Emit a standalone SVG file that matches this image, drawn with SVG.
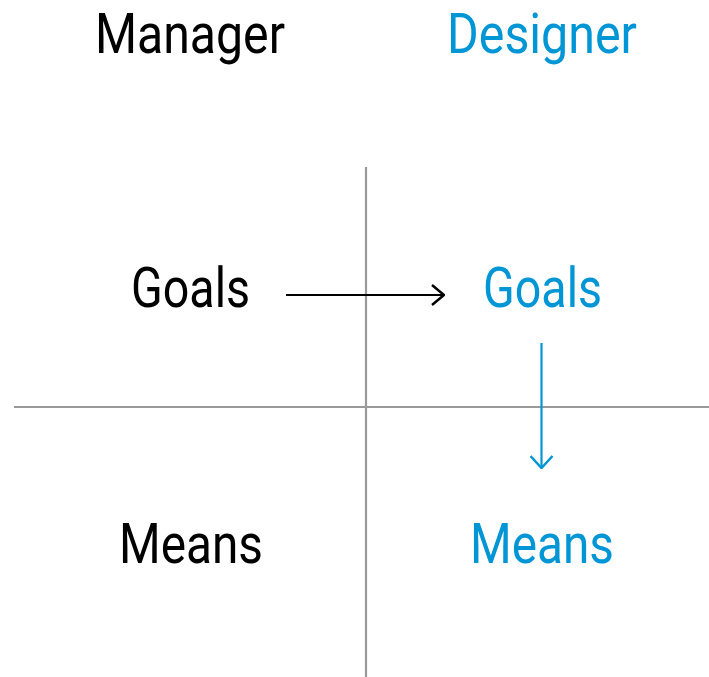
<svg xmlns="http://www.w3.org/2000/svg" width="709" height="677" viewBox="0 0 709 677">
<defs>
<style>
.t{font-family:Roboto,"Liberation Sans",sans-serif;font-size:55px}
.k{fill:#000}
.b{fill:#0096d6}
.grid{stroke:#999;stroke-width:2.2;fill:none}
</style>
<marker id="ak" viewBox="0 0 14 22" refX="13" refY="11" markerWidth="14" markerHeight="22" markerUnits="userSpaceOnUse" orient="auto">
<path d="M1,1 L13,11 L1,21" fill="none" stroke="#000" stroke-width="2.5"/>
</marker>
<marker id="ab" viewBox="0 0 14 24" refX="13" refY="12" markerWidth="14" markerHeight="24" markerUnits="userSpaceOnUse" orient="auto">
<path d="M1,1 L13,12 L1,23" fill="none" stroke="#0096d6" stroke-width="2.5"/>
</marker>
</defs>
<rect width="709" height="677" fill="#fff"/>
<g id="grid">
<line class="grid" x1="366" y1="167" x2="366" y2="677"/>
<line class="grid" x1="14" y1="407" x2="709" y2="407"/>
</g>
<g id="connectors">
<line x1="286" y1="295" x2="444" y2="295" stroke="#000" stroke-width="2.2" marker-end="url(#ak)"/>
<line x1="541.5" y1="343" x2="541.5" y2="468" stroke="#0096d6" stroke-width="2.2" marker-end="url(#ab)"/>
</g>
<g id="manager"><text class="t k" x="95" y="53" textLength="190" lengthAdjust="spacingAndGlyphs">Manager</text></g>
<g id="designer"><text class="t b" x="447" y="53" textLength="190" lengthAdjust="spacingAndGlyphs">Designer</text></g>
<g id="manager-goals"><text class="t k" x="131" y="307" textLength="119" lengthAdjust="spacingAndGlyphs">Goals</text></g>
<g id="designer-goals"><text class="t b" x="483" y="307" textLength="119" lengthAdjust="spacingAndGlyphs">Goals</text></g>
<g id="manager-means"><text class="t k" x="119" y="563" textLength="144" lengthAdjust="spacingAndGlyphs">Means</text></g>
<g id="designer-means"><text class="t b" x="470" y="563" textLength="144" lengthAdjust="spacingAndGlyphs">Means</text></g>
</svg>
